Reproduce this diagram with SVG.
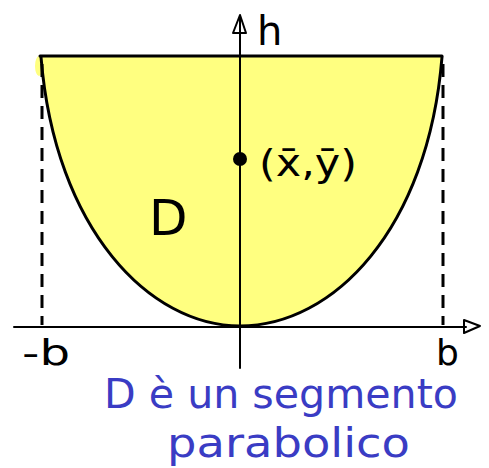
<svg xmlns="http://www.w3.org/2000/svg" width="489" height="468" viewBox="0 0 489 468">
<style>
.ln{stroke:#000;stroke-width:3;fill:none;stroke-linecap:round;stroke-linejoin:round}
.ax{stroke:#000;stroke-width:2;fill:none;stroke-linecap:round;stroke-linejoin:round}
.t{font-family:"DejaVu Sans","Liberation Sans",sans-serif;fill:#000}
.bl{font-family:"DejaVu Sans","Liberation Sans",sans-serif;fill:#3a3cc4}
</style>
<rect width="489" height="468" fill="#fff"/>
<g id="region">
<path d="M41,57 C55,230 150,326 240,326 C333,326 428,230 442,57 Z" fill="#ffff80"/>
<ellipse cx="39" cy="66" rx="4" ry="10" fill="#ffff80"/>
<path d="M41,57 C55,230 150,326 240,326 C333,326 428,230 442,57" class="ln"/>
<line x1="40" y1="56" x2="442" y2="56" class="ln"/>
</g>
<g id="connectors">
<line x1="14" y1="327" x2="466" y2="327" class="ax"/>
<path d="M464,320 L480,326 L464,333 Z" class="ax"/>
<line x1="240" y1="18" x2="240" y2="368" class="ax"/>
<path d="M233,33 L240,15 L246,33 Z" class="ax"/>
<line x1="42" y1="64" x2="42" y2="325" stroke="#000" stroke-width="3" stroke-dasharray="13,8"/>
<line x1="443" y1="64" x2="443" y2="325" stroke="#000" stroke-width="3" stroke-dasharray="13,8"/>
</g>
<g id="centroid">
<circle cx="240" cy="159" r="7" fill="#000"/>
<text class="t" x="259" y="176" font-size="38" textLength="98" lengthAdjust="spacingAndGlyphs">(x̄,ȳ)</text>
</g>
<g id="labels">
<text class="t" x="257" y="45" font-size="40">h</text>
<text class="t" x="149" y="235" font-size="50">D</text>
<text class="t" x="22" y="365" font-size="36" textLength="48" lengthAdjust="spacingAndGlyphs">-b</text>
<text class="t" x="436" y="365" font-size="36">b</text>
</g>
<g id="caption">
<text class="bl" x="104" y="408" font-size="40" textLength="354" lengthAdjust="spacingAndGlyphs">D è un segmento</text>
<text class="bl" x="167" y="457" font-size="40" textLength="243" lengthAdjust="spacingAndGlyphs">parabolico</text>
</g>
</svg>
